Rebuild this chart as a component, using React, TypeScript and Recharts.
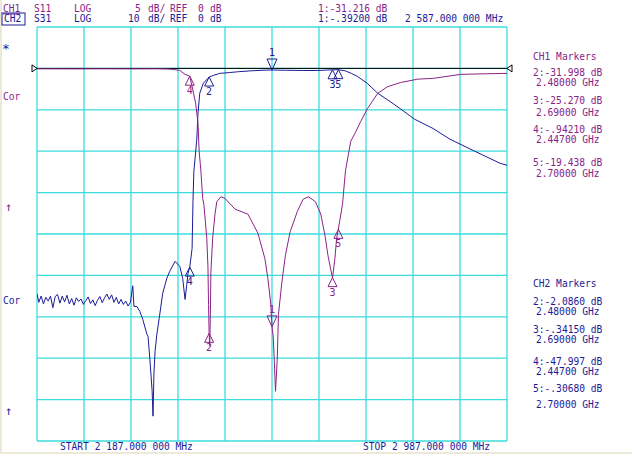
import { ComposedChart, Line, Scatter, XAxis, YAxis, CartesianGrid, ReferenceLine, ReferenceDot } from "recharts";

// frequency axis (MHz)
const START_MHZ = 2187;
const STOP_MHZ = 2987;
const freqTicks = [2187, 2267, 2347, 2427, 2507, 2587, 2667, 2747, 2827, 2907, 2987];

// CH1 S11: 5 dB/div, CH2 S31: 10 dB/div, both ref 0 dB one div below top
const ch1Ticks = [5, 0, -5, -10, -15, -20, -25, -30, -35, -40, -45];
const ch2Ticks = [10, 0, -10, -20, -30, -40, -50, -60, -70, -80, -90];

// [MHz, dB]
const s11Trace: [number, number][] = [
  [2187, -0.05], [2250, -0.06], [2300, -0.05], [2350, -0.06], [2390, -0.05], [2410, -0.08],
  [2418, -0.12], [2430, -0.24], [2439, -0.72], [2447, -0.94], [2452, -2.5], [2457, -4.2],
  [2461, -6.6], [2463, -10.0], [2466, -12.4], [2469, -15.7], [2471, -16.4], [2476, -20.5],
  [2478, -24.0], [2479, -28.5], [2480, -32.0], [2481, -33.5], [2482, -30.0], [2483, -24.5],
  [2486, -20.5], [2490, -17.6], [2493, -16.1], [2500, -15.5], [2507, -15.7], [2524, -17.0],
  [2546, -17.6], [2563, -19.9], [2575, -23.0], [2580, -25.4], [2585, -28.5], [2587, -31.2],
  [2589, -32.4], [2591, -35.4], [2593, -39.0], [2596, -35.0], [2598, -29.7], [2604, -25.7],
  [2610, -22.5], [2618, -19.7], [2630, -17.3], [2640, -15.8], [2649, -15.5], [2661, -16.1],
  [2670, -17.6], [2677, -20.1], [2682, -22.5], [2687, -24.3], [2690, -25.3], [2694, -23.0],
  [2697, -20.5], [2700, -19.4], [2707, -16.4], [2712, -12.4], [2721, -8.8], [2730, -7.6],
  [2738, -6.4], [2750, -4.8], [2767, -3.0], [2784, -2.2], [2806, -1.7], [2835, -1.3],
  [2862, -1.2], [2908, -0.72], [2950, -0.65], [2987, -0.6],
];

const s31Trace: [number, number][] = [
  [2187, -54.4], [2190, -56.5], [2194, -55.0], [2198, -56.9], [2202, -55.3], [2206, -56.2],
  [2210, -55.0], [2214, -57.8], [2218, -55.1], [2222, -54.6], [2226, -56.7], [2230, -55.0],
  [2234, -56.4], [2238, -54.8], [2242, -56.9], [2246, -55.6], [2250, -57.2], [2254, -55.4],
  [2258, -56.3], [2262, -55.7], [2266, -57.0], [2270, -56.1], [2274, -55.2], [2278, -56.8],
  [2282, -55.9], [2286, -57.3], [2290, -56.0], [2294, -55.1], [2298, -56.6], [2302, -55.4],
  [2306, -54.5], [2310, -55.8], [2314, -54.7], [2318, -56.5], [2322, -55.3], [2326, -56.9],
  [2330, -55.8], [2334, -57.0], [2338, -56.2], [2342, -57.4], [2346, -56.5], [2350, -52.5],
  [2352, -57.5], [2357, -57.5], [2362, -58.7], [2367, -60.6], [2374, -64.2], [2376, -64.7],
  [2379, -70.0], [2383, -78.0], [2384.5, -84.0], [2386, -73.9], [2388, -68.3], [2391, -64.2],
  [2395, -60.4], [2401, -54.3], [2408, -50.7], [2413, -49.0], [2422, -46.6], [2430, -47.8],
  [2435, -50.7], [2439, -55.8], [2442, -52.2], [2444, -49.5], [2447, -48.0], [2451, -43.5],
  [2452.5, -32.1], [2454, -24.9], [2459, -17.1], [2461, -10.9], [2464, -6.0], [2470, -3.6],
  [2478, -2.4], [2480, -2.09], [2487, -1.7], [2498, -1.2], [2515, -1.0], [2530, -0.8],
  [2550, -0.6], [2570, -0.45], [2587, -0.39], [2610, -0.45], [2640, -0.5], [2665, -0.5],
  [2680, -0.4], [2690, -0.34], [2700, -0.31], [2712, -0.6], [2722, -1.2], [2732, -1.9],
  [2749, -3.6], [2767, -6.0], [2788, -8.0], [2805, -9.7], [2830, -12.3], [2861, -14.5],
  [2890, -17.1], [2932, -20.0], [2975, -22.9], [2987, -23.4],
];

// markers: [number, MHz, dB]
const ch1Markers: [string, number, number][] = [
  ["1", 2587, -31.216], ["2", 2480, -31.998], ["3", 2690, -25.27], ["4", 2447, -0.9421], ["5", 2700, -19.438],
];
const ch2Markers: [string, number, number][] = [
  ["1", 2587, -0.392], ["2", 2480, -2.086], ["3", 2690, -0.3415], ["4", 2447, -47.997], ["5", 2700, -0.3068],
];

const ch1List = [
  ["2:-31.998 dB", "2.48000 GHz"],
  ["3:-25.270 dB", "2.69000 GHz"],
  ["4:-.94210 dB", "2.44700 GHz"],
  ["5:-19.438 dB", "2.70000 GHz"],
];
const ch2List = [
  ["2:-2.0860 dB", "2.48000 GHz"],
  ["3:-.34150 dB", "2.69000 GHz"],
  ["4:-47.997 dB", "2.44700 GHz"],
  ["5:-.30680 dB", "2.70000 GHz"],
];

const PURPLE = "#8a2386";
const BLUE = "#1c1c96";
const GRID = "#3cdcdc";
const FONT = "'DejaVu Sans Mono', monospace";

const toRows = (arr: [number, number][]) => arr.map(([f, db]) => ({ f, db }));
const toMarks = (arr: [string, number, number][]) => arr.map(([n, f, db]) => ({ n, f, db }));

function markerShape(color: string) {
  return (props: any) => {
    const { cx, cy, payload } = props;
    if (cx == null || cy == null) return <g />;
    if (payload.n === "1") {
      return (
        <g>
          <path d={`M${cx - 5},${cy - 11} L${cx + 5},${cy - 11} L${cx},${cy} Z`} fill="none" stroke={color} strokeWidth={1} />
          <text x={cx} y={cy - 14} textAnchor="middle" fontSize={10} fontFamily={FONT} fill={color}>1</text>
        </g>
      );
    }
    return (
      <g>
        <path d={`M${cx},${cy} L${cx - 4.5},${cy + 9} L${cx + 4.5},${cy + 9} Z`} fill="none" stroke={color} strokeWidth={1} />
        <text x={cx} y={cy + 18} textAnchor="middle" fontSize={10} fontFamily={FONT} fill={color}>{payload.n}</text>
      </g>
    );
  };
}

const leftTri = (p: any) => (
  <path d={`M${p.cx - 5},${p.cy - 3.5} L${p.cx},${p.cy} L${p.cx - 5},${p.cy + 3.5} Z`} fill="#fff" stroke="#000" />
);
const rightTri = (p: any) => (
  <path d={`M${p.cx + 5},${p.cy - 3.5} L${p.cx},${p.cy} L${p.cx + 5},${p.cy + 3.5} Z`} fill="#fff" stroke="#000" />
);

function T({ x, y, c, children, u, s }: any) {
  const size = s || 9.6;
  return (
    <text x={x} y={y + size * 0.36} fill={c} fontSize={size} fontFamily={FONT} textDecoration={u ? "underline" : undefined}>
      {children}
    </text>
  );
}

export default function App() {
  return (
    <div style={{ position: "fixed", left: 0, top: 0, width: 632, height: 454, background: "#ece9d8" }}>
      <div style={{ position: "absolute", left: 2, top: 0, width: 630, height: 452, background: "#fff" }} />
      <div style={{ position: "absolute", left: 0, top: 0 }}>
        <ComposedChart width={632} height={454} margin={{ top: 27, left: 37, right: 125, bottom: 13 }}>
          <CartesianGrid stroke={GRID} strokeWidth={1.3} yAxisId="ch1" />
          <XAxis type="number" dataKey="f" domain={[START_MHZ, STOP_MHZ]} ticks={freqTicks} hide allowDataOverflow />
          <YAxis yAxisId="ch1" type="number" dataKey="db" domain={[-45, 5]} ticks={ch1Ticks} hide allowDataOverflow />
          <YAxis yAxisId="ch2" orientation="right" type="number" dataKey="db" domain={[-90, 10]} ticks={ch2Ticks} hide allowDataOverflow />
          <ReferenceLine yAxisId="ch1" y={0} stroke="#000" strokeWidth={1} />
          <ReferenceDot yAxisId="ch1" x={START_MHZ} y={0} r={4} shape={leftTri} ifOverflow="visible" />
          <ReferenceDot yAxisId="ch1" x={STOP_MHZ} y={0} r={4} shape={rightTri} ifOverflow="visible" />
          <Line yAxisId="ch2" data={toRows(s31Trace)} dataKey="db" type="linear" stroke={BLUE} strokeWidth={1} dot={false} isAnimationActive={false} />
          <Line yAxisId="ch1" data={toRows(s11Trace)} dataKey="db" type="linear" stroke={PURPLE} strokeWidth={1} dot={false} isAnimationActive={false} />
          <Scatter yAxisId="ch2" data={toMarks(ch2Markers)} dataKey="db" shape={markerShape(BLUE)} isAnimationActive={false} />
          <Scatter yAxisId="ch1" data={toMarks(ch1Markers)} dataKey="db" shape={markerShape(PURPLE)} isAnimationActive={false} />
        </ComposedChart>
      </div>
      <svg width={632} height={454} style={{ position: "absolute", left: 0, top: 0, pointerEvents: "none" }}>
        <T x={3} y={9} c={PURPLE} u>CH1</T>
        <T x={34} y={9} c={PURPLE}>S11</T>
        <T x={74} y={9} c={PURPLE}>LOG</T>
        <T x={135} y={9} c={PURPLE}>5</T>
        <T x={148} y={9} c={PURPLE}>dB/</T>
        <T x={170} y={9} c={PURPLE}>REF</T>
        <T x={198} y={9} c={PURPLE}>0</T>
        <T x={210} y={9} c={PURPLE}>dB</T>
        <T x={318} y={9} c={PURPLE}>1:-31.216 dB</T>
        <rect x={2} y={13} width={23} height={12} fill="none" stroke={BLUE} strokeWidth={1} />
        <T x={4} y={19} c={BLUE}>CH2</T>
        <T x={34} y={19} c={BLUE}>S31</T>
        <T x={74} y={19} c={BLUE}>LOG</T>
        <T x={128} y={19} c={BLUE}>10</T>
        <T x={148} y={19} c={BLUE}>dB/</T>
        <T x={170} y={19} c={BLUE}>REF</T>
        <T x={198} y={19} c={BLUE}>0</T>
        <T x={210} y={19} c={BLUE}>dB</T>
        <T x={318} y={19} c={BLUE}>1:-.39200 dB</T>
        <T x={405} y={19} c={BLUE}>2 587.000 000 MHz</T>
        <T x={2} y={48} c={BLUE} s={13}>*</T>
        <T x={3} y={97} c={PURPLE}>Cor</T>
        <T x={5} y={207} c={PURPLE} s={12}>↑</T>
        <T x={3} y={301} c={BLUE}>Cor</T>
        <T x={5} y={411} c={BLUE} s={12}>↑</T>
        <T x={60} y={447} c={BLUE}>START 2 187.000 000 MHz</T>
        <T x={363} y={447} c={BLUE}>STOP 2 987.000 000 MHz</T>
        <T x={533} y={57} c={PURPLE}>CH1 Markers</T>
        {ch1List.map((r, i) => {
          const ys = [[73, 83], [101, 113], [130, 140], [163, 174]][i];
          return (
            <g key={"a" + i}>
              <T x={533} y={ys[0]} c={PURPLE}>{r[0]}</T>
              <T x={536} y={ys[1]} c={PURPLE}>{r[1]}</T>
            </g>
          );
        })}
        <T x={533} y={284} c={BLUE}>CH2 Markers</T>
        {ch2List.map((r, i) => {
          const ys = [[302, 312], [330, 340], [362, 372], [389, 405]][i];
          return (
            <g key={"b" + i}>
              <T x={533} y={ys[0]} c={BLUE}>{r[0]}</T>
              <T x={536} y={ys[1]} c={BLUE}>{r[1]}</T>
            </g>
          );
        })}
      </svg>
    </div>
  );
}
